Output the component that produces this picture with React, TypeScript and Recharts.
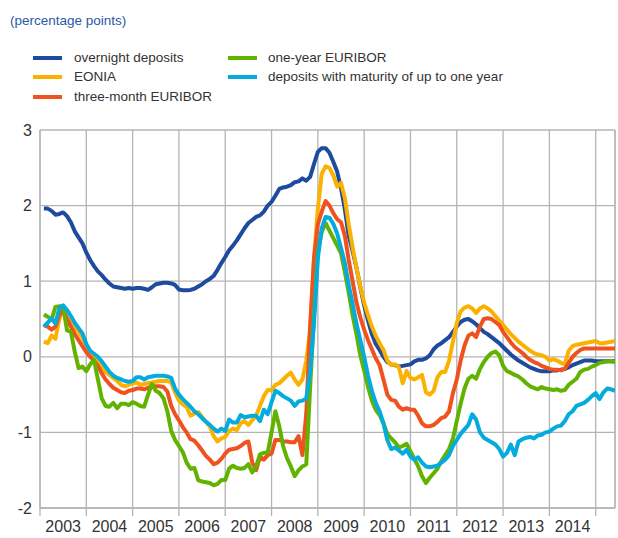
import React from "react";
import { LineChart, Line, XAxis, YAxis, CartesianGrid, ReferenceLine } from "recharts";

// month index: 0 = January 2003; data from Feb 2003 (1) to ~May 2015 (149)
const monthIndex: number[] = Array.from({ length: 149 }, (_, i) => i + 1);

const overnightDeposits: number[] = [
  1.96, 1.96, 1.93, 1.88, 1.89, 1.91, 1.86, 1.78, 1.66, 1.58,
  1.50, 1.38, 1.28, 1.20, 1.13, 1.08, 1.02, 0.97, 0.93, 0.92,
  0.91, 0.90, 0.91, 0.90, 0.91, 0.91, 0.90, 0.885, 0.92, 0.96,
  0.97, 0.98, 0.98, 0.97, 0.95, 0.89, 0.88, 0.88, 0.885, 0.90,
  0.93, 0.96, 1.00, 1.03, 1.07, 1.15, 1.24, 1.32, 1.41, 1.47,
  1.54, 1.62, 1.70, 1.77, 1.81, 1.85, 1.87, 1.92, 2.00, 2.05,
  2.13, 2.22, 2.24, 2.25, 2.27, 2.31, 2.32, 2.36, 2.33, 2.38,
  2.55, 2.71, 2.76, 2.76, 2.70, 2.58, 2.45, 2.23, 1.95, 1.60,
  1.40, 1.18, 0.92, 0.68, 0.48, 0.30, 0.17, 0.09, 0.0, -0.07,
  -0.10, -0.11, -0.13, -0.12, -0.11, -0.10, -0.06, -0.04, -0.04, -0.02,
  0.02, 0.10, 0.15, 0.18, 0.22, 0.26, 0.33, 0.40, 0.46, 0.49,
  0.50, 0.47, 0.43, 0.38, 0.33, 0.30, 0.26, 0.22, 0.18, 0.13,
  0.08, 0.03, -0.01, -0.05, -0.08, -0.11, -0.14, -0.16, -0.18, -0.19,
  -0.19, -0.19, -0.18, -0.18, -0.17, -0.16, -0.14, -0.11, -0.09, -0.07,
  -0.05, -0.05, -0.05, -0.06, -0.06, -0.06, -0.06, -0.06, -0.06,
];

const eonia: number[] = [
  0.20, 0.18, 0.28, 0.24, 0.50, 0.62, 0.52, 0.45, 0.38, 0.33,
  0.25, 0.15, 0.06, -0.01, -0.08, -0.14, -0.20, -0.24, -0.28, -0.32,
  -0.37, -0.39, -0.37, -0.35, -0.34, -0.37, -0.36, -0.35, -0.34, -0.33,
  -0.32, -0.32, -0.32, -0.34, -0.47, -0.58, -0.63, -0.66, -0.78, -0.75,
  -0.73, -0.80, -0.86, -0.92, -1.05, -1.12, -1.08, -1.06, -0.98, -0.95,
  -0.97, -0.88, -0.85, -0.90, -0.84, -0.78, -0.65, -0.52, -0.44, -0.44,
  -0.37, -0.35, -0.30, -0.25, -0.21, -0.30, -0.37, -0.30, -0.05, 0.35,
  1.30, 1.96, 2.42, 2.52, 2.50, 2.40, 2.25, 2.30, 2.10, 1.75,
  1.45, 1.18, 0.93, 0.72, 0.55, 0.40, 0.28, 0.18, 0.09, -0.05,
  -0.11, -0.10, -0.14, -0.35, -0.19, -0.28, -0.30, -0.27, -0.24, -0.47,
  -0.50, -0.45, -0.27, -0.20, -0.20, -0.05, 0.20, 0.45, 0.60, 0.65,
  0.67, 0.64, 0.58, 0.64, 0.67, 0.64, 0.60, 0.54, 0.48, 0.42,
  0.36, 0.30, 0.25, 0.20, 0.16, 0.12, 0.08, 0.05, 0.03, 0.02,
  0.00, -0.05, -0.03, -0.05, -0.08, -0.10, 0.08, 0.14, 0.16, 0.17,
  0.18, 0.19, 0.20, 0.21, 0.18, 0.18, 0.19, 0.20, 0.21,
];

const threeMonthEuribor: number[] = [
  0.42, 0.40, 0.36, 0.40, 0.55, 0.62, 0.50, 0.40, 0.30, 0.22,
  0.14, 0.06, 0.00, -0.05, -0.12, -0.22, -0.30, -0.36, -0.41, -0.44,
  -0.47, -0.48, -0.45, -0.44, -0.42, -0.42, -0.43, -0.41, -0.39, -0.39,
  -0.39, -0.40, -0.46, -0.65, -0.76, -0.84, -0.93, -1.00, -1.09, -1.11,
  -1.17, -1.24, -1.31, -1.36, -1.42, -1.40, -1.35, -1.28, -1.23, -1.22,
  -1.21, -1.18, -1.14, -1.12, -1.40, -1.50, -1.32, -1.36, -1.30, -1.28,
  -1.10, -1.10, -1.12, -1.12, -1.13, -1.13, -1.05, -1.30, -0.75, 0.40,
  1.30, 1.75, 1.92, 2.06, 2.00, 1.90, 1.82, 1.78, 1.60, 1.28,
  1.00, 0.72, 0.52, 0.36, 0.22, 0.10, -0.02, -0.11, -0.30, -0.50,
  -0.57, -0.58, -0.66, -0.70, -0.68, -0.70, -0.70, -0.78, -0.88, -0.92,
  -0.92, -0.90, -0.86, -0.81, -0.79, -0.72, -0.48, -0.30, -0.05, 0.15,
  0.28, 0.31, 0.26, 0.40, 0.50, 0.51, 0.50, 0.46, 0.42, 0.33,
  0.26, 0.19, 0.13, 0.09, 0.05, 0.00, -0.04, -0.07, -0.09, -0.12,
  -0.14, -0.16, -0.17, -0.17, -0.18, -0.16, -0.08, 0.00, 0.05, 0.09,
  0.11, 0.11, 0.11, 0.11, 0.11, 0.11, 0.11, 0.11, 0.11,
];

const oneYearEuribor: number[] = [
  0.56, 0.53, 0.49, 0.66, 0.67, 0.67, 0.35, 0.33, 0.07, -0.15,
  -0.13, -0.19, -0.10, -0.04, -0.30, -0.55, -0.65, -0.66, -0.61, -0.68,
  -0.62, -0.62, -0.64, -0.60, -0.62, -0.65, -0.66, -0.50, -0.36, -0.45,
  -0.48, -0.55, -0.72, -0.98, -1.10, -1.18, -1.26, -1.40, -1.48, -1.47,
  -1.63, -1.65, -1.66, -1.67, -1.70, -1.68, -1.63, -1.63, -1.48, -1.44,
  -1.47, -1.48, -1.47, -1.42, -1.53, -1.45, -1.29, -1.27, -1.27, -1.00,
  -0.72, -0.92, -1.18, -1.34, -1.45, -1.58, -1.50, -1.45, -1.42, -0.40,
  0.55, 1.39, 1.65, 1.77, 1.67, 1.57, 1.47, 1.37, 1.12, 0.85,
  0.55, 0.30, 0.02, -0.18, -0.40, -0.58, -0.70, -0.77, -0.88, -1.02,
  -1.08, -1.13, -1.20, -1.18, -1.15, -1.25, -1.35, -1.45, -1.58, -1.67,
  -1.60, -1.54, -1.48, -1.38, -1.30, -1.22, -1.08, -0.85, -0.62, -0.42,
  -0.29, -0.25, -0.29, -0.16, -0.07, 0.00, 0.05, 0.07, 0.02, -0.12,
  -0.19, -0.21, -0.24, -0.26, -0.30, -0.35, -0.39, -0.41, -0.43, -0.40,
  -0.42, -0.43, -0.44, -0.43, -0.45, -0.44, -0.37, -0.33, -0.29, -0.20,
  -0.17, -0.16, -0.13, -0.11, -0.08, -0.07, -0.06, -0.06, -0.07,
];

const depositsUpToOneYear: number[] = [
  0.40, 0.45, 0.51, 0.44, 0.64, 0.68, 0.62, 0.54, 0.45, 0.38,
  0.31, 0.17, 0.08, 0.04, 0.00, -0.06, -0.13, -0.20, -0.25, -0.28,
  -0.30, -0.32, -0.33, -0.32, -0.27, -0.27, -0.30, -0.27, -0.26, -0.25,
  -0.25, -0.25, -0.26, -0.28, -0.42, -0.50, -0.56, -0.61, -0.66, -0.72,
  -0.76, -0.81, -0.86, -0.90, -0.95, -0.99, -0.95, -0.98, -0.83, -0.87,
  -0.87, -0.77, -0.80, -0.79, -0.78, -0.78, -0.85, -0.70, -0.76, -0.60,
  -0.45, -0.48, -0.52, -0.55, -0.58, -0.65, -0.59, -0.58, -0.55, -0.20,
  0.45, 1.30, 1.70, 1.85, 1.84, 1.76, 1.63, 1.44, 1.24, 0.95,
  0.70, 0.44, 0.22, 0.00, -0.25, -0.45, -0.61, -0.72, -0.88, -1.10,
  -1.22, -1.20, -1.24, -1.28, -1.23, -1.32, -1.36, -1.33, -1.40, -1.45,
  -1.46, -1.45, -1.44, -1.40, -1.36, -1.30, -1.18, -1.10, -1.02, -0.96,
  -0.90, -0.76, -0.83, -1.00, -1.07, -1.10, -1.13, -1.16, -1.22, -1.32,
  -1.27, -1.16, -1.30, -1.12, -1.09, -1.07, -1.06, -1.08, -1.04, -1.03,
  -1.00, -0.99, -0.95, -0.92, -0.91, -0.85, -0.76, -0.72, -0.65, -0.63,
  -0.61, -0.57, -0.52, -0.48, -0.56, -0.47, -0.42, -0.43, -0.45,
];

const yearTicks: number[] = [0, 12, 24, 36, 48, 60, 72, 84, 96, 108, 120, 132, 144];
const yearLabels: string[] = ["2003", "2004", "2005", "2006", "2007", "2008", "2009", "2010", "2011", "2012", "2013", "2014"];
const valueTicks: number[] = [-2, -1, 0, 1, 2, 3];

const seriesNames: string[] = [
  "overnight deposits",
  "EONIA",
  "three-month EURIBOR",
  "one-year EURIBOR",
  "deposits with maturity of up to one year",
];

const COLORS = {
  overnight: "#1f4b9e",
  eonia: "#fbb100",
  three: "#f0521f",
  one: "#62b300",
  dep: "#04acdd",
};

const data = monthIndex.map((m, i) => ({
  m,
  overnight: overnightDeposits[i],
  eonia: eonia[i],
  three: threeMonthEuribor[i],
  one: oneYearEuribor[i],
  dep: depositsUpToOneYear[i],
}));

const CHART_W = 618;
const CHART_H = 538;
const PLOT_LEFT = 40;
const PLOT_RIGHT_MARGIN = 3;
const X_MAX = 149;
const HALF_YEAR_PX = ((CHART_W - PLOT_LEFT - PLOT_RIGHT_MARGIN) / X_MAX) * 6;
const LINE_W = 4;

const FONT = "'Liberation Sans', Arial, Helvetica, sans-serif";

const YearTick = (props: any) => {
  const { x, y, payload } = props;
  const idx = yearTicks.indexOf(payload.value);
  const label = yearLabels[idx];
  if (!label) return null;
  return (
    <text x={x + HALF_YEAR_PX} y={y} dy={14} textAnchor="middle" fontSize={16} fill="#333" fontFamily={FONT}>
      {label}
    </text>
  );
};

const legendItems = [
  { name: seriesNames[0], color: COLORS.overnight, col: 0, row: 0 },
  { name: seriesNames[1], color: COLORS.eonia, col: 0, row: 1 },
  { name: seriesNames[2], color: COLORS.three, col: 0, row: 2 },
  { name: seriesNames[3], color: COLORS.one, col: 1, row: 0 },
  { name: seriesNames[4], color: COLORS.dep, col: 1, row: 1 },
];

export default function App() {
  return (
    <div
      style={{
        position: "absolute",
        left: 0,
        top: 0,
        width: CHART_W,
        height: CHART_H,
        background: "#fff",
        fontFamily: FONT,
      }}
    >
      <div
        style={{
          position: "absolute",
          left: 10,
          top: 13,
          fontSize: 13.5,
          lineHeight: "16px",
          color: "#2b59a6",
          whiteSpace: "nowrap",
        }}
      >
        (percentage points)
      </div>
      {legendItems.map((it) => {
        const swX = it.col === 0 ? 33 : 228;
        const txX = it.col === 0 ? 74 : 268;
        const cy = 58 + it.row * 19.3;
        return (
          <React.Fragment key={it.name}>
            <div
              style={{
                position: "absolute",
                left: swX,
                top: cy - 2,
                width: 29,
                height: 4,
                background: it.color,
              }}
            />
            <div
              style={{
                position: "absolute",
                left: txX,
                top: cy - 8,
                fontSize: 13.5,
                lineHeight: "16px",
                color: "#333",
                whiteSpace: "nowrap",
              }}
            >
              {it.name}
            </div>
          </React.Fragment>
        );
      })}
      <div style={{ position: "absolute", left: 0, top: 0 }}>
        <LineChart
          width={CHART_W}
          height={CHART_H}
          data={data}
          margin={{ top: 130, right: PLOT_RIGHT_MARGIN, bottom: 0, left: 0 }}
        >
          <CartesianGrid stroke="#b4b4b4" strokeWidth={1.3} />
          <XAxis
            dataKey="m"
            type="number"
            domain={[0, X_MAX]}
            ticks={yearTicks}
            interval={0}
            height={30}
            tick={<YearTick />}
            tickSize={8}
            tickLine={{ stroke: "#b4b4b4", strokeWidth: 1.3 }}
            axisLine={{ stroke: "#b4b4b4", strokeWidth: 1.3 }}
            allowDataOverflow
          />
          <YAxis
            type="number"
            domain={[-2, 3]}
            ticks={valueTicks}
            interval={0}
            width={PLOT_LEFT}
            tickLine={false}
            axisLine={{ stroke: "#b4b4b4", strokeWidth: 1.3 }}
            tick={{ fontSize: 16, fill: "#333", fontFamily: FONT }}
          />
          <ReferenceLine x={X_MAX} stroke="#b4b4b4" strokeWidth={1.3} />
          <Line type="linear" dataKey="overnight" name={seriesNames[0]} stroke={COLORS.overnight} strokeWidth={LINE_W} dot={false} isAnimationActive={false} strokeLinejoin="round" />
          <Line type="linear" dataKey="eonia" name={seriesNames[1]} stroke={COLORS.eonia} strokeWidth={LINE_W} dot={false} isAnimationActive={false} strokeLinejoin="round" />
          <Line type="linear" dataKey="three" name={seriesNames[2]} stroke={COLORS.three} strokeWidth={LINE_W} dot={false} isAnimationActive={false} strokeLinejoin="round" />
          <Line type="linear" dataKey="one" name={seriesNames[3]} stroke={COLORS.one} strokeWidth={LINE_W} dot={false} isAnimationActive={false} strokeLinejoin="round" />
          <Line type="linear" dataKey="dep" name={seriesNames[4]} stroke={COLORS.dep} strokeWidth={LINE_W} dot={false} isAnimationActive={false} strokeLinejoin="round" />
        </LineChart>
      </div>
    </div>
  );
}
